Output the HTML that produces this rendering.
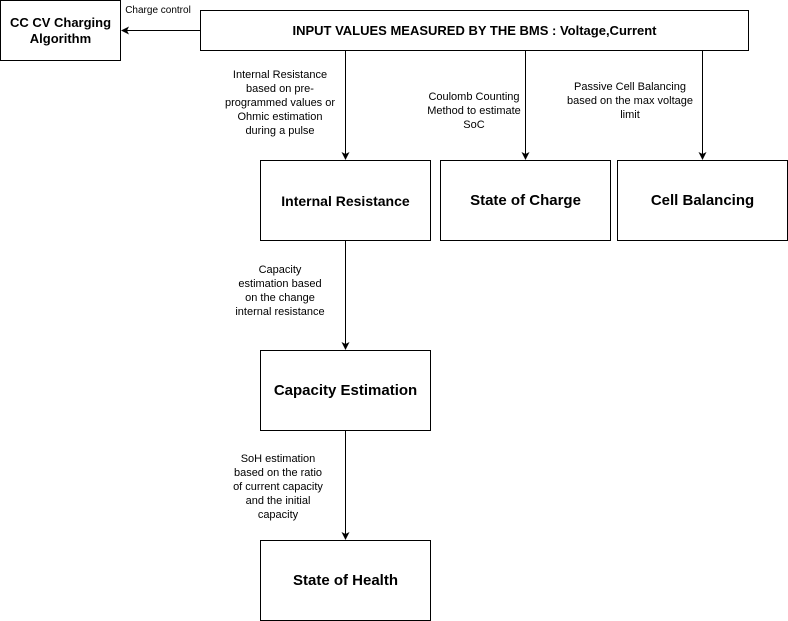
<!DOCTYPE html>
<html><head><style>
body{margin:0;width:788px;height:621px;background:#fff;position:relative;font-family:"Liberation Sans",Arial,sans-serif;overflow:hidden}
.b{position:absolute;border:1px solid #000;box-sizing:border-box;display:flex;align-items:center;justify-content:center;text-align:center;font-weight:bold;background:#fff}
.l{position:absolute;font-size:11px;text-align:center;line-height:14px}
</style></head><body>
<svg width="788" height="621" style="position:absolute;left:0;top:0">
<defs><marker id="a" markerWidth="8" markerHeight="8" refX="7" refY="4" orient="auto" markerUnits="userSpaceOnUse"><path d="M0,0 L8,4 L0,8 L2,4 z" fill="#000"/></marker></defs>
<g stroke="#000" stroke-width="1" fill="none">
<line x1="200" y1="30.5" x2="122" y2="30.5" marker-end="url(#a)"/>
<line x1="345.5" y1="50" x2="345.5" y2="159" marker-end="url(#a)"/>
<line x1="525.5" y1="50" x2="525.5" y2="159" marker-end="url(#a)"/>
<line x1="702.5" y1="50" x2="702.5" y2="159" marker-end="url(#a)"/>
<line x1="345.5" y1="240" x2="345.5" y2="349" marker-end="url(#a)"/>
<line x1="345.5" y1="430" x2="345.5" y2="539" marker-end="url(#a)"/>
</g></svg>
<div class="b" style="left:0;top:0;width:121px;height:61px;font-size:13px;line-height:16px">CC CV Charging<br>Algorithm</div>
<div class="b" style="left:200px;top:10px;width:549px;height:41px;font-size:13px">INPUT VALUES MEASURED BY THE BMS : Voltage,Current</div>
<div class="b" style="left:260px;top:160px;width:171px;height:81px;font-size:14px">Internal Resistance</div>
<div class="b" style="left:440px;top:160px;width:171px;height:81px;font-size:15px">State of Charge</div>
<div class="b" style="left:617px;top:160px;width:171px;height:81px;font-size:15px">Cell Balancing</div>
<div class="b" style="left:260px;top:350px;width:171px;height:81px;font-size:15px">Capacity Estimation</div>
<div class="b" style="left:260px;top:540px;width:171px;height:81px;font-size:15px">State of Health</div>
<div class="l" style="left:121px;top:4px;width:74px;font-size:10px">Charge control</div>
<div class="l" style="left:220px;top:68px;width:120px">Internal Resistance<br>based on pre-<br>programmed values or<br>Ohmic estimation<br>during a pulse</div>
<div class="l" style="left:418px;top:90px;width:112px">Coulomb Counting<br>Method to estimate<br>SoC</div>
<div class="l" style="left:560px;top:80px;width:140px">Passive Cell Balancing<br>based on the max voltage<br>limit</div>
<div class="l" style="left:222px;top:263px;width:116px">Capacity<br>estimation based<br>on the change<br>internal resistance</div>
<div class="l" style="left:218px;top:452px;width:120px">SoH estimation<br>based on the ratio<br>of current capacity<br>and the initial<br>capacity</div>
</body></html>
